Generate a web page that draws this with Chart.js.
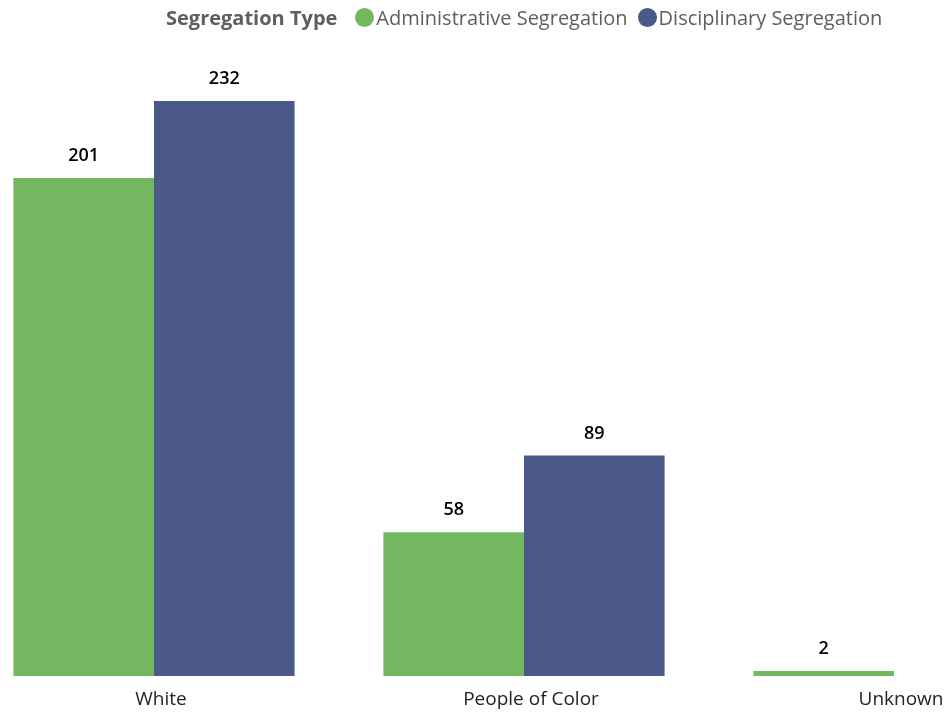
<!DOCTYPE html>
<html>
<head>
<meta charset="utf-8">
<script src="https://cdn.jsdelivr.net/npm/chart.js@4"></script>
<style>
  html, body { margin: 0; padding: 0; background: #fff; }
  #wrap { position: relative; width: 949px; height: 713px; overflow: hidden; }
  #box { position: absolute; left: -31px; top: 0; width: 1110px; height: 713px; }
  #legend { position: absolute; top: 4px; left: 166px; font-family: 'Open Sans', sans-serif; font-size: 20px; color: #605e5c; white-space: nowrap; display: flex; align-items: center; }
  #legend b { font-weight: 700; margin-right: 18px; }
  .dot { display: inline-block; width: 19px; height: 19px; border-radius: 50%; margin-right: 2px; }
  .item { display: flex; align-items: center; margin-right: 10px; }
</style>
</head>
<body>
<div id="wrap">
  <div id="box"><canvas id="myChart" width="1110" height="713"></canvas></div>
  <div id="legend"></div>
</div>
<script>
const categorias = ['White', 'People of Color', 'Unknown'];
const administrativa = [201, 58, 2];
const disciplinar = [232, 89, 0];
const series = ['Administrative Segregation', 'Disciplinary Segregation'];
const cores = ['#73b761', '#4a588a'];

// legenda em HTML, igual ao visual original
const legenda = document.getElementById('legend');
legenda.innerHTML = '<b>Segregation Type</b>' + series.map((s, i) =>
    '<span class="item"><span class="dot" style="background:' + cores[i] + '"></span>' + s + '</span>'
).join('');

const rotulos = {
    id: 'rotulos',
    afterDatasetsDraw(chart) {
        const ctx = chart.ctx;
        ctx.save();
        ctx.font = '600 18px "Open Sans", sans-serif';
        ctx.fillStyle = '#000';
        ctx.textAlign = 'center';
        ctx.textBaseline = 'bottom';
        chart.data.datasets.forEach((ds, i) => {
            chart.getDatasetMeta(i).data.forEach((bar, j) => {
                if (!ds.data[j]) return;
                ctx.fillText(ds.data[j], bar.x, bar.y - 13);
            });
        });
        ctx.restore();
    }
};

const ctx = document.getElementById('myChart').getContext('2d');
const myChart = new Chart(ctx, {
    type: 'bar',
    data: {
        labels: categorias,
        datasets: [
            { label: series[0], data: administrativa, backgroundColor: cores[0] },
            { label: series[1], data: disciplinar, backgroundColor: cores[1] }
        ]
    },
    options: {
        responsive: false,
        animation: false,
        layout: { padding: { top: 56.5, left: 0, right: 0, bottom: 0 } },
        datasets: { bar: { categoryPercentage: 0.76, barPercentage: 1.0 } },
        plugins: {
            legend: { display: false },
            tooltip: { enabled: false }
        },
        scales: {
            x: {
                grid: { display: false },
                border: { display: false },
                ticks: {
                    color: '#252423',
                    font: { family: '"Open Sans", sans-serif', size: 19 },
                    labelOffset: 7,
                    padding: 4,
                    maxRotation: 0
                },
                afterFit(scale) { scale.height = 37; }
            },
            y: {
                display: false,
                min: 0,
                max: 250
            }
        }
    },
    plugins: [rotulos]
});
</script>
</body>
</html>
